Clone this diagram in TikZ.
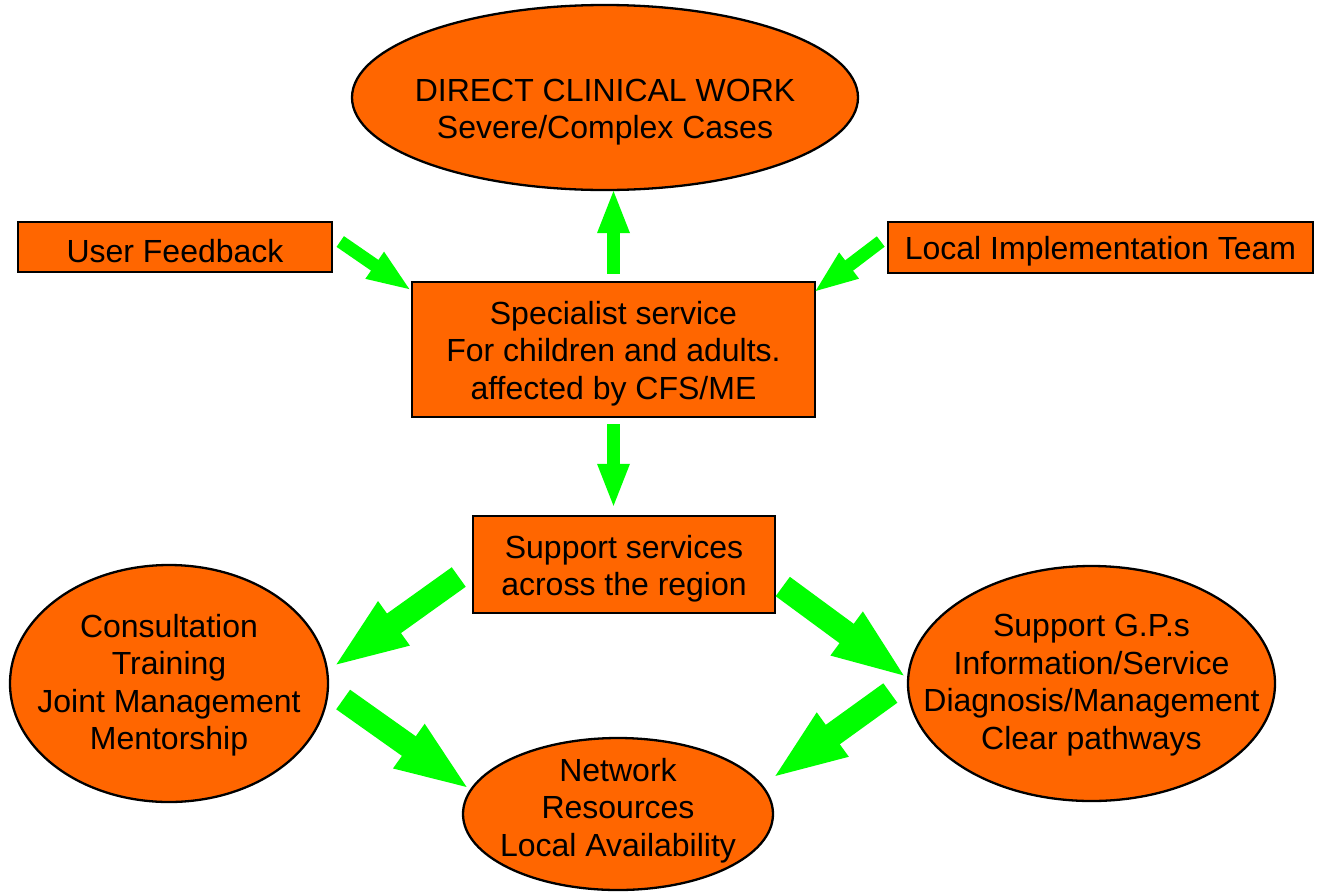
\documentclass[tikz,border=0pt]{standalone}
\usepackage{fontspec}
\setmainfont{Liberation Sans}
\usepackage{tikz}
\usetikzlibrary{shapes.geometric,arrows.meta,calc}

\definecolor{boxorange}{HTML}{FF6600}
\definecolor{arrowgreen}{HTML}{00FF00}

\begin{document}
\begin{tikzpicture}[x=1pt,y=1pt,
    every node/.style={font=\fontsize{32}{37.5}\selectfont, align=center},
    box/.style={draw, fill=boxorange, line width=2.5pt, inner sep=0pt},
    blob/.style={ellipse, draw, fill=boxorange, line width=2.3pt, inner sep=0pt},
    smallarrow/.style={arrowgreen, line width=13pt, -{Triangle[length=45pt,width=29pt]}},
    bigarrow/.style={arrowgreen, line width=24pt, -{Triangle[length=76pt,width=48pt]}}]
    \useasboundingbox (0,0) rectangle (1319,-892);

    % top row
    \node[blob, minimum width=506pt, minimum height=185pt,
          label={[yshift=-14.5pt]center:DIRECT CLINICAL WORK\\Severe/Complex Cases}] (dcw) at (605,-97.5) {};
    \node[box, minimum width=314pt, minimum height=50pt] (uf) at (175,-247) {\raisebox{-4pt}[\height][\depth]{User Feedback}};
    \node[box, minimum width=425pt, minimum height=51pt] (lit) at (1100.5,-247.5) {\raisebox{-4pt}[\height][\depth]{Local Implementation Team}};

    % middle
    \node[box, minimum width=403pt, minimum height=135pt,
          label={[yshift=-4pt]center:Specialist service\\For children and adults.\\affected by CFS/ME}] (spec) at (613.5,-349.5) {};
    \node[box, minimum width=302pt, minimum height=97pt,
          label={[yshift=-4pt]center:Support services\\across the region}] (sup) at (624,-564.5) {};

    % bottom row
    \node[blob, minimum width=318pt, minimum height=237pt,
          label={[yshift=-1.5pt]center:Consultation\\Training\\Joint Management\\Mentorship}] (cons) at (169,-683.5) {};
    \node[blob, minimum width=367pt, minimum height=235pt,
          label={[yshift=-1.5pt]center:Support G.P.s\\Information/Service\\Diagnosis/Management\\Clear pathways}] (gps) at (1091.5,-683.5) {};
    \node[blob, minimum width=310pt, minimum height=152pt,
          label={[yshift=3.5pt]center:Network\\Resources\\Local Availability}] (net) at (618,-814) {};

    % arrows
    \draw[smallarrow] ($(uf.east)+(7,5.5)$) -- ($(spec.north west)+(1,-10)$);
    \draw[smallarrow] ($(lit.west)+(-6,6)$) -- ($(spec.north east)+(-3,-12)$);
    \draw[smallarrow] ($(spec.north)+(0,7)$) -- ($(spec.north |- dcw.south)+(0,3)$);
    \draw[smallarrow] ($(spec.south)+(0,-6)$) -- ($(spec.south |- sup.north)+(0,6)$);
    \draw[bigarrow] ($(sup.west)+(-13,-12.5)$) -- ($(cons.east)+(3,16)$);
    \draw[bigarrow] ($(sup.east)+(6.5,-22)$) -- ($(gps.west)+(1,5)$);
    \draw[bigarrow] ($(cons.east)+(14,-16)$) -- ($(net.west)+(9,24)$);
    \draw[bigarrow] ($(gps.west)+(-16.5,-9.5)$) -- ($(net.east)+(-3,35)$);
\end{tikzpicture}
\end{document}
